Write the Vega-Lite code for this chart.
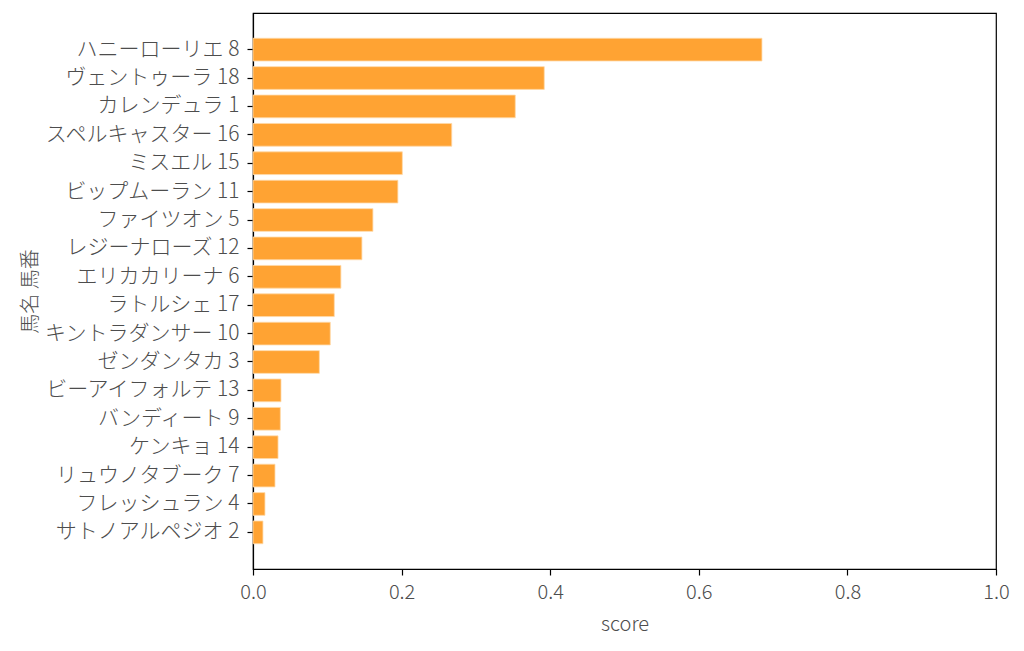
{
  "$schema": "https://vega.github.io/schema/vega-lite/v6.json",
  "autosize": "none",
  "padding": {"left": 253, "top": 13, "right": 28, "bottom": 82},
  "width": 743,
  "height": 556,
  "background": "white",
  "config": {
    "font": "Noto Sans CJK JP Light, Noto Sans CJK JP",
    "view": {"stroke": "black", "strokeWidth": 1.2},
    "axis": {
      "labelFont": "Noto Sans CJK JP Light, Noto Sans CJK JP",
      "titleFont": "Noto Sans CJK JP Light, Noto Sans CJK JP",
      "labelFontWeight": 300,
      "titleFontWeight": 300,
      "labelColor": "#4d4d4d",
      "titleColor": "#4d4d4d",
      "labelFontSize": 20,
      "titleFontSize": 20,
      "grid": false,
      "domainColor": "black",
      "domainWidth": 1.2,
      "tickColor": "black",
      "tickWidth": 1.2,
      "tickSize": 6
    }
  },
  "data": {
    "values": [
      {"name": "ハニーローリエ 8", "score": 0.685},
      {"name": "ヴェントゥーラ 18", "score": 0.392},
      {"name": "カレンデュラ 1", "score": 0.353},
      {"name": "スペルキャスター 16", "score": 0.2675},
      {"name": "ミスエル 15", "score": 0.201},
      {"name": "ビップムーラン 11", "score": 0.195},
      {"name": "ファイツオン 5", "score": 0.1614},
      {"name": "レジーナローズ 12", "score": 0.1466},
      {"name": "エリカカリーナ 6", "score": 0.1183},
      {"name": "ラトルシェ 17", "score": 0.1094},
      {"name": "キントラダンサー 10", "score": 0.104},
      {"name": "ゼンダンタカ 3", "score": 0.0893},
      {"name": "ビーアイフォルテ 13", "score": 0.0377},
      {"name": "バンディート 9", "score": 0.0368},
      {"name": "ケンキョ 14", "score": 0.0337},
      {"name": "リュウノタブーク 7", "score": 0.0296},
      {"name": "フレッシュラン 4", "score": 0.0161},
      {"name": "サトノアルペジオ 2", "score": 0.0134}
    ]
  },
  "mark": {"type": "bar", "fill": "#ffa333", "stroke": "#ffd9a8", "strokeWidth": 0.8},
  "encoding": {
    "y": {
      "field": "name",
      "type": "nominal",
      "sort": null,
      "scale": {"paddingInner": 0.2, "paddingOuter": 0.89},
      "axis": {"title": "馬名 馬番", "labelFontSize": 21, "labelPadding": 8, "titleX": -213, "labelLimit": 300}
    },
    "x": {
      "field": "score",
      "type": "quantitative",
      "scale": {"domain": [0, 1.0], "nice": false},
      "axis": {"title": "score", "values": [0, 0.2, 0.4, 0.6, 0.8, 1.0], "format": ".1f", "labelPadding": 7, "titlePadding": 12, "labelFlush": false}
    }
  }
}
